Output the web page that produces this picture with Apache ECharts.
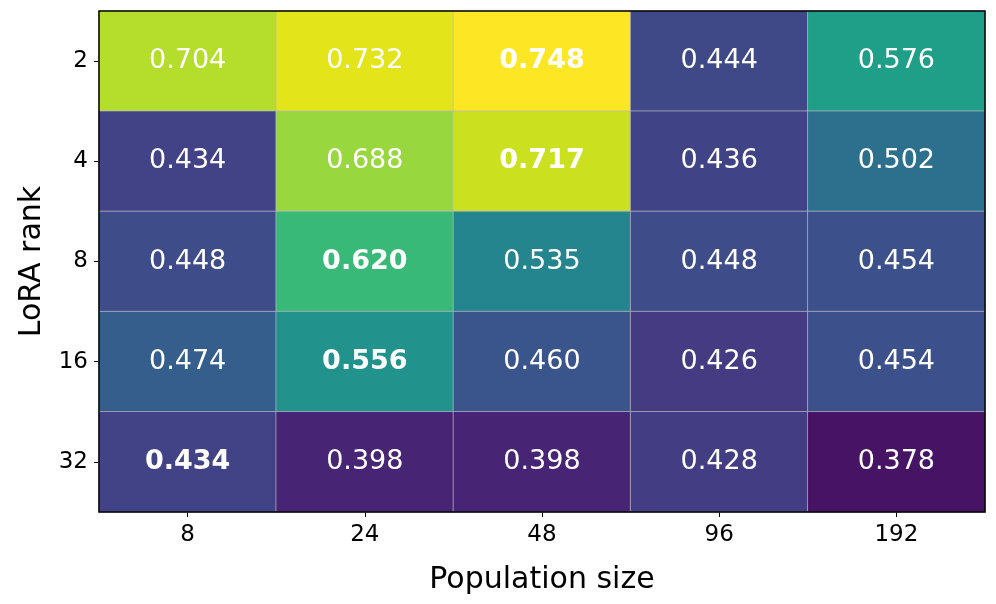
<!DOCTYPE html>
<html>
<head>
<meta charset="utf-8">
<script src="https://cdn.jsdelivr.net/npm/echarts@6/dist/echarts.min.js"></script>
<style>
html,body{margin:0;padding:0;background:#fff;}
#chart{width:996px;height:604px;}
</style>
</head>
<body>
<div id="chart"></div>
<script>
const populationSizes = ['8', '24', '48', '96', '192'];
const loraRanks = ['2', '4', '8', '16', '32'];
const row2 = [0.704, 0.732, 0.748, 0.444, 0.576];
const row4 = [0.434, 0.688, 0.717, 0.436, 0.502];
const row8 = [0.448, 0.620, 0.535, 0.448, 0.454];
const row16 = [0.474, 0.556, 0.460, 0.426, 0.454];
const row32 = [0.434, 0.398, 0.398, 0.428, 0.378];
const rows = [row2, row4, row8, row16, row32];
const colorMin = 0.359;
const colorMax = 0.748;

const viridis = ['#440154','#471365','#482475','#463480','#414487','#3b528b','#355f8d','#2f6c8e','#2a788e','#25848e','#21918c','#1e9c89','#22a884','#2fb47c','#44bf70','#5ec962','#7ad151','#9bd93c','#bddf26','#dfe318','#fde725'];

const data = [];
rows.forEach((r, yi) => {
  const rmax = Math.max(...r);
  r.forEach((v, xi) => {
    data.push({value: [xi, yi, v], bold: v === rmax});
  });
});

const font = 'DejaVu Sans';
const chart = echarts.init(document.getElementById('chart'), null, {renderer: 'canvas'});
chart.setOption({
  animation: false,
  backgroundColor: '#fff',
  grid: {left: 99, right: 11, top: 11, bottom: 92, show: true, borderColor: '#000', borderWidth: 1.5, backgroundColor: 'transparent', z: 10},
  xAxis: {
    type: 'category', data: populationSizes,
    name: 'Population size', nameLocation: 'middle', nameGap: 53,
    nameTextStyle: {fontFamily: font, fontSize: 30, color: '#000'},
    axisLine: {show: false},
    axisTick: {show: true, alignWithLabel: true, length: 5, lineStyle: {color: '#000', width: 1}},
    axisLabel: {fontFamily: font, fontSize: 23, color: '#000', margin: 12},
    splitLine: {show: false}
  },
  yAxis: {
    type: 'category', data: loraRanks, inverse: true,
    name: 'LoRA rank', nameLocation: 'middle', nameGap: 52,
    nameTextStyle: {fontFamily: font, fontSize: 30, color: '#000'},
    axisLine: {show: false},
    axisTick: {show: true, alignWithLabel: true, length: 5, lineStyle: {color: '#000', width: 1}},
    axisLabel: {fontFamily: font, fontSize: 23, color: '#000', margin: 11},
    splitLine: {show: false}
  },
  visualMap: {
    show: false, type: 'continuous', min: colorMin, max: colorMax, dimension: 2,
    inRange: {color: viridis}
  },
  series: [{
    type: 'heatmap',
    data: data,
    itemStyle: {borderColor: 'rgba(185,185,195,0.7)', borderWidth: 1},
    label: {
      show: true,
      formatter: p => (p.data.bold ? '{b|' : '{n|') + p.data.value[2].toFixed(3) + '}',
      rich: {
        n: {fontFamily: font, fontSize: 27, color: '#fff'},
        b: {fontFamily: font, fontSize: 27, color: '#fff', fontWeight: 'bold'}
      }
    },
    emphasis: {disabled: true}
  }]
});
</script>
</body>
</html>
